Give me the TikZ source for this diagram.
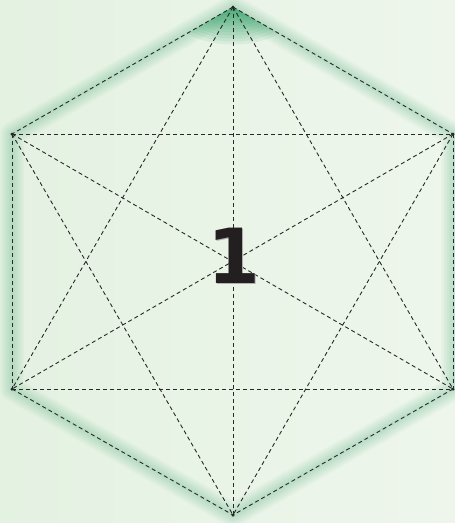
\documentclass[tikz,border=0pt]{standalone}
\usepackage{fontspec}
\newfontfamily\numfont{DejaVu Sans}
\usetikzlibrary{calc}
\definecolor{bgA}{RGB}{228,242,226}
\definecolor{bgB}{RGB}{238,246,236}
\definecolor{glow}{RGB}{38,158,98}
\definecolor{edgecol}{RGB}{40,40,40}
\definecolor{numcol}{RGB}{35,31,32}
\tikzset{
  edge/.style={draw=edgecol, line width=0.9pt, dash pattern=on 4pt off 3pt},
  vdot/.style={circle, fill=edgecol, inner sep=0pt, minimum size=3pt},
}
\begin{document}
\begin{tikzpicture}[x=1pt,y=-1pt]
\useasboundingbox (0,0) rectangle (455,523);
\shade[left color=bgA, right color=bgB] (0,0) rectangle (455,523);
% vertices
\node[vdot] (T)  at (233,7) {};
\node[vdot] (UL) at (12,134) {};
\node[vdot] (UR) at (453,134) {};
\node[vdot] (LL) at (12,389) {};
\node[vdot] (LR) at (453,389) {};
\node[vdot] (B)  at (233,515) {};
% glow along hexagon
\foreach \w in {3,6,...,24}{
  \draw[glow, opacity=0.03, line width=\w pt, line join=round, line cap=round]
    (T.center) -- (UR.center) -- (LR.center) -- (B.center) -- (LL.center) -- (UL.center) -- cycle;
}
% top spot
\begin{scope}
  \clip (T.center) -- (UR.center) -- (UL.center) -- cycle;
  \foreach \r in {6,10,...,50}{
    \fill[glow, opacity=0.09] (T.center) ellipse[x radius=1.3*\r, y radius=0.75*\r];
  }
\end{scope}
% edges (K6)
\foreach \a/\b in {T/UL,T/UR,UL/LL,UR/LR,LL/B,LR/B,T/LL,T/LR,UL/UR,LL/LR,UL/B,UR/B,T/B,UL/LR,UR/LL}{
  \draw[edge] (\a.center) -- (\b.center);
}
\foreach \v in {T,UL,UR,LL,LR,B}{ \fill[edgecol] (\v.center) circle (1.5pt); }
% number
\node[text=black!30, font=\numfont\bfseries\fontsize{76}{76}\selectfont] at (235.2,256.8) {1};
\node[text=numcol, font=\numfont\bfseries\fontsize{76}{76}\selectfont] (num) at (234,256) {1};
\end{tikzpicture}
\end{document}
